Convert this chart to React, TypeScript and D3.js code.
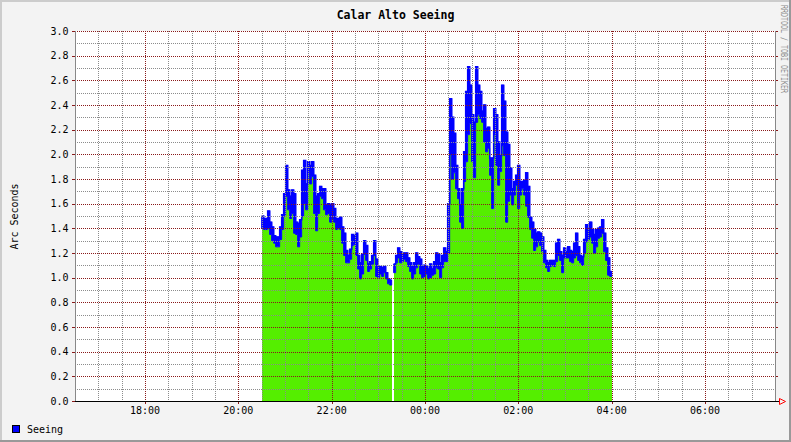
import React from "react";
import * as d3 from "d3";

const TITLE = "Calar Alto Seeing";
const Y_LABEL = "Arc Seconds";
const SERIES_NAME = "Seeing";
const CREDIT = "RRDTOOL / TOBI OETIKER";

const X_START = "16:30";
const X_END = "07:30";
const DATA_START = "20:30";
const DATA_END = "04:00";
const X_MAJOR_TICKS = ["18:00", "20:00", "22:00", "00:00", "02:00", "04:00", "06:00"];
const Y_MAJOR_TICKS = [0, 0.2, 0.4, 0.6, 0.8, 1.0, 1.2, 1.4, 1.6, 1.8, 2.0, 2.2, 2.4, 2.6, 2.8, 3.0];

// upper edge of the blue "Seeing" trace, per sample
const seeingHigh: (number | null)[] = [
  1.50, 1.48, 1.48, 1.54, 1.45, 1.41, 1.34, 1.33, 1.33, 1.41,
  1.51, 1.68, 1.91, 1.71, 1.66, 1.71, 1.68, 1.45, 1.44, 1.47,
  1.87, 1.95, 1.76, 1.94, 1.91, 1.94, 1.83, 1.66, 1.68, 1.74,
  1.72, 1.72, 1.59, 1.60, 1.59, 1.60, 1.56, 1.48, 1.48, 1.49,
  1.41, 1.36, 1.22, 1.18, 1.23, 1.35, 1.34, 1.36, 1.18, 1.12,
  1.19, 1.30, 1.26, 1.11, 1.13, 1.18, 1.30, 1.15, 1.09, 1.09,
  1.08, 1.09, 1.04, 0.99, 0.98, null, 1.11, 1.18, 1.24, 1.21,
  1.19, 1.20, 1.20, 1.16, 1.12, 1.09, 1.12, 1.20, 1.17, 1.15,
  1.09, 1.10, 1.09, 1.07, 1.11, 1.07, 1.13, 1.20, 1.19, 1.12,
  1.18, 1.24, 1.21, 1.60, 2.45, 2.30, 2.17, 1.91, 1.72, 1.59,
  1.72, 2.02, 2.51, 2.71, 2.56, 2.32, 2.26, 2.71, 2.56, 2.51,
  2.35, 2.40, 2.21, 2.22, 1.97, 1.97, 2.37, 2.32, 2.10, 1.99,
  2.56, 2.43, 2.18, 2.08, 1.89, 1.72, 1.78, 1.83, 1.91, 1.78,
  1.78, 1.79, 1.85, 1.74, 1.49, 1.45, 1.39, 1.36, 1.37, 1.36,
  1.33, 1.22, 1.14, 1.12, 1.14, 1.14, 1.14, 1.28, 1.31, 1.21,
  1.18, 1.24, 1.21, 1.25, 1.22, 1.21, 1.28, 1.36, 1.25, 1.18,
  1.17, 1.31, 1.43, 1.40, 1.45, 1.39, 1.35, 1.39, 1.40, 1.41,
  1.47, 1.36, 1.24, 1.16, 1.05,
];

// top of the green filled area, per sample
const seeingLow: (number | null)[] = [
  1.40, 1.39, 1.39, 1.40, 1.35, 1.30, 1.28, 1.25, 1.25, 1.31,
  1.39, 1.50, 1.66, 1.55, 1.48, 1.52, 1.36, 1.35, 1.25, 1.33,
  1.50, 1.60, 1.55, 1.85, 1.76, 1.82, 1.52, 1.38, 1.52, 1.66,
  1.64, 1.55, 1.51, 1.52, 1.45, 1.48, 1.45, 1.39, 1.40, 1.39,
  1.28, 1.18, 1.12, 1.12, 1.15, 1.26, 1.27, 1.18, 1.07, 0.99,
  1.03, 1.19, 1.14, 1.05, 1.07, 1.11, 1.18, 1.01, 1.00, 1.03,
  1.01, 1.04, 0.99, 0.95, 0.94, null, 1.04, 1.12, 1.16, 1.12,
  1.13, 1.15, 1.13, 1.09, 1.05, 0.99, 1.03, 1.08, 1.11, 1.03,
  1.00, 1.01, 1.03, 0.99, 1.00, 1.02, 1.03, 1.08, 1.07, 1.00,
  1.08, 1.13, 1.13, 1.20, 2.00, 1.80, 1.85, 1.72, 1.64, 1.45,
  1.40, 1.78, 1.94, 2.16, 2.25, 1.94, 1.81, 2.26, 2.32, 2.29,
  2.26, 2.10, 2.02, 2.05, 1.83, 1.56, 2.16, 1.91, 1.75, 1.86,
  2.07, 1.99, 1.45, 1.62, 1.67, 1.59, 1.67, 1.75, 1.56, 1.67,
  1.72, 1.67, 1.58, 1.49, 1.39, 1.32, 1.22, 1.25, 1.29, 1.26,
  1.21, 1.12, 1.08, 1.05, 1.09, 1.10, 1.09, 1.13, 1.18, 1.14,
  1.04, 1.16, 1.16, 1.16, 1.13, 1.12, 1.16, 1.18, 1.14, 1.12,
  1.10, 1.20, 1.29, 1.31, 1.33, 1.28, 1.20, 1.25, 1.32, 1.33,
  1.36, 1.21, 1.14, 1.02, 1.01,
];

const W = 791;
const H = 442;
const PLOT_L = 75;
const PLOT_R = 775;
const PLOT_T = 31;
const PLOT_B = 401;

const GREEN = "#55EE00";
const BLUE = "#0000FF";
const MINOR = "#8c8c8c";
const MAJOR = "#8a1a1a";
const FONT = "'DejaVu Sans Mono', monospace";

function clock(s: string): Date {
  const [h, m] = s.split(":").map(Number);
  return new Date(2024, 0, h < 12 ? 2 : 1, h, m);
}

type Pt = { t: Date; lo: number; hi: number; ok: boolean };

export default function App() {
  const x = d3.scaleTime().domain([clock(X_START), clock(X_END)]).range([PLOT_L, PLOT_R]);
  const y = d3.scaleLinear().domain([0, 3]).range([PLOT_B, PLOT_T]);

  const t0 = clock(DATA_START).getTime();
  const t1 = clock(DATA_END).getTime();
  const n = seeingHigh.length;
  const step = (t1 - t0) / n;

  const pts: Pt[] = [];
  for (let i = 0; i < n; i++) {
    const hi = seeingHigh[i];
    const lo = seeingLow[i];
    const a = new Date(t0 + i * step);
    const b = new Date(t0 + (i + 1) * step);
    if (hi == null || lo == null) {
      pts.push({ t: a, lo: 0, hi: 0, ok: false });
    } else {
      pts.push({ t: a, lo, hi, ok: true });
      pts.push({ t: b, lo, hi, ok: true });
    }
  }

  const greenArea = d3
    .area<Pt>()
    .defined((d) => d.ok)
    .x((d) => x(d.t))
    .y0(y(0))
    .y1((d) => y(d.lo));
  const blueBand = d3
    .area<Pt>()
    .defined((d) => d.ok)
    .x((d) => x(d.t))
    .y0((d) => y(d.lo))
    .y1((d) => y(d.hi));
  const blueLine = d3
    .line<Pt>()
    .defined((d) => d.ok)
    .x((d) => x(d.t))
    .y((d) => y(d.hi));

  // grid
  const minorX = d3.timeMinute.every(30)!.range(clock(X_START), new Date(clock(X_END).getTime() + 1));
  const majorXSet = new Set(X_MAJOR_TICKS.map((s) => clock(s).getTime()));
  const minorY = d3.range(0, 31).map((k) => k / 10);
  const majorY = new Set(Y_MAJOR_TICKS.map((v) => Math.round(v * 10)));

  const px = (v: number) => Math.round(v) + 0.5;

  return (
    <div style={{ position: "absolute", left: 0, top: 0 }}>
      <svg width={W} height={H} style={{ display: "block" }}>
        <rect x={0} y={0} width={W} height={H} fill="#F3F3F3" />
        {/* 3D frame */}
        <path d={`M1,${H} L1,1 L${W},1`} stroke="#CCCCCC" strokeWidth={2} fill="none" />
        <path d={`M0,${H - 1} L${W - 1},${H - 1} L${W - 1},0`} stroke="#999999" strokeWidth={2} fill="none" />

        <rect x={PLOT_L} y={PLOT_T} width={PLOT_R - PLOT_L} height={PLOT_B - PLOT_T} fill="#FFFFFF" />

        {/* data */}
        <path d={greenArea(pts) || ""} fill={GREEN} shapeRendering="crispEdges" />
        <path d={blueBand(pts) || ""} fill={BLUE} stroke={BLUE} strokeWidth={1} />
        <path d={blueLine(pts) || ""} fill="none" stroke={BLUE} strokeWidth={1.5} />

        {/* minor grid */}
        <g shapeRendering="crispEdges">
          {minorX
            .filter((d) => !majorXSet.has(d.getTime()) && x(d) > PLOT_L + 1 && x(d) < PLOT_R - 1)
            .map((d, i) => (
              <line key={"mx" + i} x1={px(x(d))} x2={px(x(d))} y1={PLOT_T} y2={PLOT_B} stroke={MINOR} strokeDasharray="1,1" />
            ))}
          {minorY
            .filter((v) => !majorY.has(Math.round(v * 10)))
            .map((v, i) => (
              <line key={"my" + i} x1={PLOT_L} x2={PLOT_R} y1={px(y(v))} y2={px(y(v))} stroke={MINOR} strokeDasharray="1,1" />
            ))}
          {/* major grid */}
          {X_MAJOR_TICKS.map((s) => (
            <line key={"Mx" + s} x1={px(x(clock(s)))} x2={px(x(clock(s)))} y1={PLOT_T} y2={PLOT_B} stroke={MAJOR} strokeDasharray="1,1" />
          ))}
          {Y_MAJOR_TICKS.map((v) => (
            <line key={"My" + v} x1={PLOT_L} x2={PLOT_R} y1={px(y(v))} y2={px(y(v))} stroke={MAJOR} strokeDasharray="1,1" />
          ))}
          {/* major ticks */}
          {Y_MAJOR_TICKS.map((v) => (
            <g key={"ty" + v}>
              <line x1={PLOT_L - 3} x2={PLOT_L} y1={px(y(v))} y2={px(y(v))} stroke={MAJOR} />
              <line x1={PLOT_R} x2={PLOT_R + 3} y1={px(y(v))} y2={px(y(v))} stroke={MAJOR} />
            </g>
          ))}
          {X_MAJOR_TICKS.map((s) => (
            <line key={"tx" + s} x1={px(x(clock(s)))} x2={px(x(clock(s)))} y1={PLOT_B} y2={PLOT_B + 3} stroke={MAJOR} />
          ))}
          {/* axes */}
          <line x1={PLOT_L + 0.5} x2={PLOT_L + 0.5} y1={PLOT_T} y2={PLOT_B} stroke="#888888" />
          <line x1={PLOT_R + 0.5} x2={PLOT_R + 0.5} y1={PLOT_T} y2={PLOT_B} stroke="#888888" />
          <line x1={PLOT_L} x2={PLOT_R + 4} y1={PLOT_B + 0.5} y2={PLOT_B + 0.5} stroke="#000000" />
        </g>
        {/* arrow */}
        <path
          d={`M${PLOT_R + 4.5},${PLOT_B - 2.5} L${PLOT_R + 4.5},${PLOT_B + 3.5} M${PLOT_R + 4.5},${PLOT_B - 2.5} L${PLOT_R + 10.5},${PLOT_B + 0.5} L${PLOT_R + 4.5},${PLOT_B + 3.5}`}
          stroke="#FF0000"
          fill="none"
          strokeWidth={1}
        />

        {/* labels */}
        <text x={395.5} y={19} textAnchor="middle" fontFamily={FONT} fontSize={11.5} fontWeight="bold" fill="#000">
          {TITLE}
        </text>
        {Y_MAJOR_TICKS.map((v) => (
          <text key={"ly" + v} x={68.5} y={y(v) + 3.8} textAnchor="end" fontFamily={FONT} fontSize={10} fill="#000">
            {v.toFixed(1)}
          </text>
        ))}
        {X_MAJOR_TICKS.map((s) => (
          <text key={"lx" + s} x={x(clock(s))} y={414} textAnchor="middle" fontFamily={FONT} fontSize={10} fill="#000">
            {s}
          </text>
        ))}
        <text transform="translate(18,216.5) rotate(-90)" textAnchor="middle" fontFamily={FONT} fontSize={10} fill="#000">
          {Y_LABEL}
        </text>
        <text transform="translate(781,5) rotate(90)" fontFamily={FONT} fontSize={8.5} fill="#8a8a8a" textLength={88} lengthAdjust="spacingAndGlyphs">
          {CREDIT}
        </text>

        {/* legend */}
        <rect x={12.5} y={425.5} width={7} height={7} fill={BLUE} stroke="#000" />
        <text x={27} y={433} fontFamily={FONT} fontSize={10} fill="#000">
          {SERIES_NAME}
        </text>
      </svg>
    </div>
  );
}
